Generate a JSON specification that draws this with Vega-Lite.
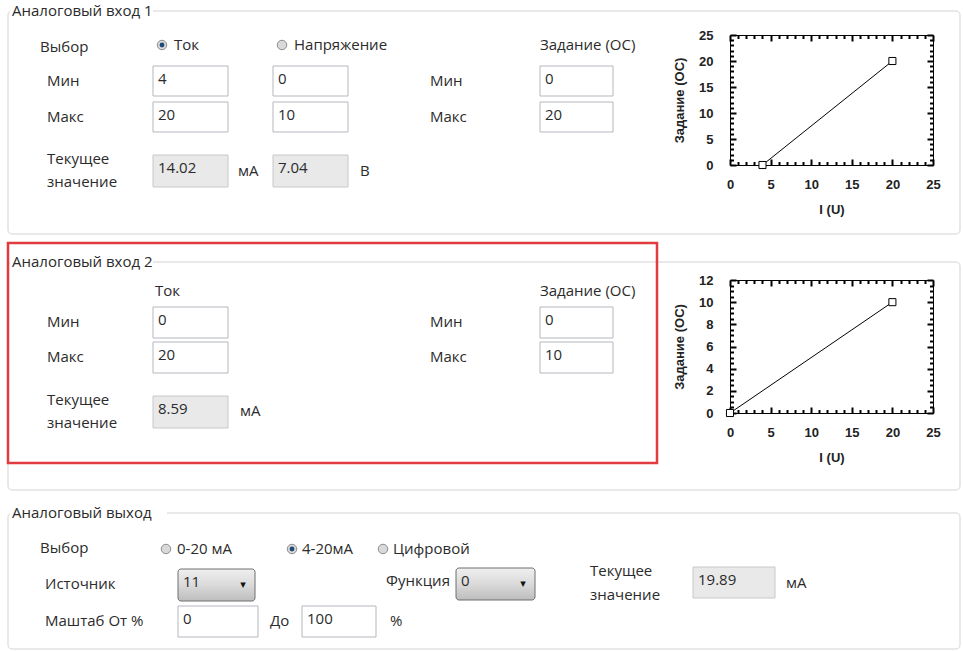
{
  "$schema": "https://vega.github.io/schema/vega-lite/v6.json",
  "padding": 0,
  "background": "white",
  "bounds": "flush",
  "spacing": 5,
  "config": {"view": {"stroke": null}, "axis": {"tickWidth": 2, "tickColor": "black", "domainColor": "black", "grid": false}},
  "datasets": {
    "ui": [
      {"kind": "group", "x": 8, "x2": 960, "y": 11, "y2": 234},
      {"kind": "group", "x": 8, "x2": 960, "y": 262, "y2": 490},
      {"kind": "group", "x": 8, "x2": 960, "y": 513, "y2": 649},
      {"kind": "titlebg", "x": 10, "x2": 153, "y": 2, "y2": 20},
      {"kind": "titlebg", "x": 10, "x2": 153, "y": 253, "y2": 271},
      {"kind": "titlebg", "x": 10, "x2": 167, "y": 504, "y2": 522},
      {"kind": "highlight", "x": 8, "x2": 657, "y": 243, "y2": 463},

      {"kind": "title", "text": "Аналоговый вход 1", "x": 12, "y": 11},
      {"kind": "title", "text": "Аналоговый вход 2", "x": 12, "y": 262},
      {"kind": "title", "text": "Аналоговый выход", "x": 12, "y": 513},

      {"kind": "label", "text": "Выбор", "x": 40, "y": 47},
      {"kind": "label", "text": "Ток", "x": 174, "y": 45},
      {"kind": "label", "text": "Напряжение", "x": 294, "y": 45},
      {"kind": "label", "text": "Задание (ОС)", "x": 540, "y": 45},
      {"kind": "label", "text": "Мин", "x": 47, "y": 81},
      {"kind": "label", "text": "Мин", "x": 430, "y": 81},
      {"kind": "label", "text": "Макс", "x": 47, "y": 117},
      {"kind": "label", "text": "Макс", "x": 430, "y": 117},
      {"kind": "label", "text": "Текущее", "x": 47, "y": 159},
      {"kind": "label", "text": "значение", "x": 47, "y": 182},
      {"kind": "label", "text": "мА", "x": 238, "y": 171},
      {"kind": "label", "text": "В", "x": 360, "y": 171},

      {"kind": "label", "text": "Ток", "x": 155, "y": 291},
      {"kind": "label", "text": "Задание (ОС)", "x": 540, "y": 291},
      {"kind": "label", "text": "Мин", "x": 47, "y": 322},
      {"kind": "label", "text": "Мин", "x": 430, "y": 322},
      {"kind": "label", "text": "Макс", "x": 47, "y": 357},
      {"kind": "label", "text": "Макс", "x": 430, "y": 357},
      {"kind": "label", "text": "Текущее", "x": 47, "y": 400},
      {"kind": "label", "text": "значение", "x": 47, "y": 423},
      {"kind": "label", "text": "мА", "x": 240, "y": 411},

      {"kind": "label", "text": "Выбор", "x": 40, "y": 548},
      {"kind": "label", "text": "0-20 мА", "x": 177, "y": 549},
      {"kind": "label", "text": "4-20мА", "x": 302, "y": 549},
      {"kind": "label", "text": "Цифровой", "x": 393, "y": 549},
      {"kind": "label", "text": "Источник", "x": 45, "y": 584},
      {"kind": "label", "text": "Функция", "x": 386, "y": 581},
      {"kind": "label", "text": "Текущее", "x": 590, "y": 571},
      {"kind": "label", "text": "значение", "x": 590, "y": 595},
      {"kind": "label", "text": "мА", "x": 786, "y": 583},
      {"kind": "label", "text": "Маштаб От %", "x": 45, "y": 621},
      {"kind": "label", "text": "До", "x": 270, "y": 621},
      {"kind": "label", "text": "%", "x": 390, "y": 621},

      {"kind": "input", "text": "4", "x": 153, "x2": 228, "y": 66, "y2": 96},
      {"kind": "input", "text": "0", "x": 273, "x2": 348, "y": 66, "y2": 96},
      {"kind": "input", "text": "0", "x": 540, "x2": 613, "y": 66, "y2": 96},
      {"kind": "input", "text": "20", "x": 153, "x2": 228, "y": 102, "y2": 132},
      {"kind": "input", "text": "10", "x": 273, "x2": 348, "y": 102, "y2": 132},
      {"kind": "input", "text": "20", "x": 540, "x2": 613, "y": 102, "y2": 132},
      {"kind": "readonly", "text": "14.02", "x": 153, "x2": 228, "y": 155, "y2": 187},
      {"kind": "readonly", "text": "7.04", "x": 273, "x2": 348, "y": 155, "y2": 187},

      {"kind": "input", "text": "0", "x": 153, "x2": 228, "y": 307, "y2": 338},
      {"kind": "input", "text": "0", "x": 540, "x2": 613, "y": 307, "y2": 338},
      {"kind": "input", "text": "20", "x": 153, "x2": 228, "y": 342, "y2": 373},
      {"kind": "input", "text": "10", "x": 540, "x2": 613, "y": 342, "y2": 373},
      {"kind": "readonly", "text": "8.59", "x": 153, "x2": 228, "y": 396, "y2": 428},

      {"kind": "dropdown", "text": "11", "x": 178, "x2": 255, "y": 569, "y2": 601},
      {"kind": "dropdown", "text": "0", "x": 456, "x2": 535, "y": 568, "y2": 600},
      {"kind": "readonly", "text": "19.89", "x": 693, "x2": 775, "y": 567, "y2": 598},
      {"kind": "input", "text": "0", "x": 178, "x2": 258, "y": 606, "y2": 637},
      {"kind": "input", "text": "100", "x": 302, "x2": 376, "y": 606, "y2": 637},

      {"kind": "radio", "selected": true, "x": 162, "y": 45},
      {"kind": "radio", "selected": false, "x": 282, "y": 45},
      {"kind": "radio", "selected": false, "x": 166, "y": 549},
      {"kind": "radio", "selected": true, "x": 292, "y": 549},
      {"kind": "radio", "selected": false, "x": 383, "y": 549}
    ],
    "in1": [
      {"I": 4, "Z": 0},
      {"I": 20, "Z": 20}
    ],
    "in2": [
      {"I": 0, "Z": 0},
      {"I": 20, "Z": 10}
    ]
  },
  "hconcat": [
    {
      "width": 725,
      "height": 651,
      "data": {"name": "ui"},
      "encoding": {
        "x": {"field": "x", "type": "quantitative", "scale": {"domain": [0, 725], "nice": false, "zero": false}, "axis": null},
        "y": {"field": "y", "type": "quantitative", "scale": {"domain": [0, 651], "nice": false, "zero": false, "reverse": true}, "axis": null}
      },
      "layer": [
        {
          "transform": [{"filter": "datum.kind === 'group'"}],
          "mark": {"type": "rect", "fill": null, "stroke": "#d3d3d3", "strokeWidth": 1, "cornerRadius": 4},
          "encoding": {"x2": {"field": "x2"}, "y2": {"field": "y2"}}
        },
        {
          "transform": [{"filter": "datum.kind === 'titlebg'"}],
          "mark": {"type": "rect", "fill": "white", "stroke": null},
          "encoding": {"x2": {"field": "x2"}, "y2": {"field": "y2"}}
        },
        {
          "transform": [{"filter": "datum.kind === 'highlight'"}],
          "mark": {"type": "rect", "fill": null, "stroke": "#e23b3f", "strokeWidth": 2.5},
          "encoding": {"x2": {"field": "x2"}, "y2": {"field": "y2"}}
        },
        {
          "transform": [{"filter": "datum.kind === 'input'"}],
          "mark": {"type": "rect", "fill": "white", "stroke": "#b5b7bd", "strokeWidth": 1},
          "encoding": {"x2": {"field": "x2"}, "y2": {"field": "y2"}}
        },
        {
          "transform": [{"filter": "datum.kind === 'readonly'"}],
          "mark": {"type": "rect", "fill": "#e9e9e9", "stroke": "#c8c8c8", "strokeWidth": 1},
          "encoding": {"x2": {"field": "x2"}, "y2": {"field": "y2"}}
        },
        {
          "transform": [{"filter": "datum.kind === 'dropdown'"}],
          "mark": {
            "type": "rect", "stroke": "#6f6f6f", "strokeWidth": 1, "cornerRadius": 3,
            "fill": {"gradient": "linear", "x1": 0, "y1": 0, "x2": 0, "y2": 1,
                     "stops": [{"offset": 0, "color": "#f0f0f0"}, {"offset": 0.5, "color": "#dadada"}, {"offset": 1, "color": "#bdbdbd"}]}
          },
          "encoding": {"x2": {"field": "x2"}, "y2": {"field": "y2"}}
        },
        {
          "transform": [{"filter": "datum.kind === 'dropdown'"}],
          "mark": {"type": "text", "align": "center", "baseline": "top", "dx": -12, "dy": 10, "font": "DejaVu Sans", "fontSize": 11, "fill": "#111"},
          "encoding": {"x": {"field": "x2", "type": "quantitative"}, "text": {"value": "▾"}}
        },
        {
          "transform": [{"filter": "datum.kind === 'radio'"}],
          "mark": {"type": "point", "shape": "circle", "size": 90, "filled": true, "fill": "#d9d9d9", "stroke": "#8c8c8c", "strokeWidth": 1, "opacity": 1},
          "encoding": {}
        },
        {
          "transform": [{"filter": "datum.kind === 'radio' && datum.selected"}],
          "mark": {"type": "point", "shape": "circle", "size": 24, "filled": true, "fill": "#1f4b7a", "stroke": null, "opacity": 1},
          "encoding": {}
        },
        {
          "transform": [{"filter": "datum.kind === 'input' || datum.kind === 'readonly' || datum.kind === 'dropdown'"}],
          "mark": {"type": "text", "align": "left", "baseline": "top", "dx": 5, "dy": 6, "font": "Open Sans", "fontSize": 15, "fill": "#2b2b2b"},
          "encoding": {"text": {"field": "text"}}
        },
        {
          "transform": [{"filter": "datum.kind === 'label' || datum.kind === 'title'"}],
          "mark": {"type": "text", "align": "left", "baseline": "middle", "font": "Open Sans", "fontSize": 15, "fill": "#2b2b2b"},
          "encoding": {"text": {"field": "text"}}
        }
      ]
    },
    {
      "bounds": "flush",
      "spacing": 5,
      "vconcat": [
        {
          "width": 203, "height": 30,
          "data": {"values": []},
          "mark": {"type": "point", "opacity": 0}
        },
        {
          "width": 203, "height": 130,
          "data": {"name": "in1"},
          "layer": [
            {
              "mark": {"type": "line", "color": "black", "strokeWidth": 1},
              "encoding": {
                "x": {"field": "I", "type": "quantitative", "scale": {"domain": [0, 25], "nice": false},
                  "axis": {"orient": "bottom", "values": [0, 5, 10, 15, 20, 25], "format": "d", "tickSize": -6,
                    "labelFont": "Liberation Sans", "labelFontSize": 13, "labelFontWeight": "bold", "labelColor": "#222",
                    "labelPadding": 19, "labelFlush": false, "labelOverlap": false,
                    "title": "I (U)", "titleFont": "Liberation Sans", "titleFontSize": 13, "titleFontWeight": "bold", "titleColor": "#222", "titlePadding": 12}},
                "y": {"field": "Z", "type": "quantitative", "scale": {"domain": [0, 25], "nice": false},
                  "axis": {"orient": "left", "values": [0, 5, 10, 15, 20, 25], "format": "d", "tickSize": -6,
                    "labelFont": "Liberation Sans", "labelFontSize": 13, "labelFontWeight": "bold", "labelColor": "#222",
                    "labelPadding": 23, "labelOverlap": false,
                    "title": "Задание (ОС)", "titleFont": "Liberation Sans", "titleFontSize": 13, "titleFontWeight": "bold", "titleColor": "#222", "titlePadding": 12}}
              }
            },
            {
              "mark": {"type": "point", "shape": "square", "size": 50, "filled": true, "fill": "white", "stroke": "black", "strokeWidth": 1, "opacity": 1},
              "encoding": {
                "x": {"field": "I", "type": "quantitative",
                  "axis": {"orient": "top", "values": [0, 5, 10, 15, 20, 25], "tickSize": -6, "labels": false, "title": null}},
                "y": {"field": "Z", "type": "quantitative",
                  "axis": {"orient": "right", "values": [0, 5, 10, 15, 20, 25], "tickSize": -6, "labels": false, "title": null}}
              }
            },
            {
              "mark": {"type": "point", "opacity": 0},
              "encoding": {
                "x": {"field": "I", "type": "quantitative",
                  "axis": {"orient": "bottom", "values": [1,2,3,4,6,7,8,9,11,12,13,14,16,17,18,19,21,22,23,24], "tickSize": -3.5,
                    "labels": false, "title": null, "domain": false}},
                "y": {"field": "Z", "type": "quantitative",
                  "axis": {"orient": "left", "values": [1,2,3,4,6,7,8,9,11,12,13,14,16,17,18,19,21,22,23,24], "tickSize": -3.5,
                    "labels": false, "title": null, "domain": false}}
              }
            },
            {
              "mark": {"type": "point", "opacity": 0},
              "encoding": {
                "x": {"field": "I", "type": "quantitative",
                  "axis": {"orient": "top", "values": [1,2,3,4,6,7,8,9,11,12,13,14,16,17,18,19,21,22,23,24], "tickSize": -3.5,
                    "labels": false, "title": null, "domain": false}},
                "y": {"field": "Z", "type": "quantitative",
                  "axis": {"orient": "right", "values": [1,2,3,4,6,7,8,9,11,12,13,14,16,17,18,19,21,22,23,24], "tickSize": -3.5,
                    "labels": false, "title": null, "domain": false}}
              }
            }
          ],
          "resolve": {"axis": {"x": "independent", "y": "independent"}}
        },
        {
          "width": 203, "height": 105,
          "data": {"values": []},
          "mark": {"type": "point", "opacity": 0}
        },
        {
          "width": 203, "height": 133,
          "data": {"name": "in2"},
          "layer": [
            {
              "mark": {"type": "line", "color": "black", "strokeWidth": 1},
              "encoding": {
                "x": {"field": "I", "type": "quantitative", "scale": {"domain": [0, 25], "nice": false},
                  "axis": {"orient": "bottom", "values": [0, 5, 10, 15, 20, 25], "format": "d", "tickSize": -6, "tickOpacity": 0,
                    "labelFont": "Liberation Sans", "labelFontSize": 13, "labelFontWeight": "bold", "labelColor": "#222",
                    "labelPadding": 19, "labelFlush": false, "labelOverlap": false,
                    "title": "I (U)", "titleFont": "Liberation Sans", "titleFontSize": 13, "titleFontWeight": "bold", "titleColor": "#222", "titlePadding": 12}},
                "y": {"field": "Z", "type": "quantitative", "scale": {"domain": [0, 12], "nice": false},
                  "axis": {"orient": "left", "values": [0, 2, 4, 6, 8, 10, 12], "format": "d", "tickSize": -6, "tickOpacity": 0,
                    "labelFont": "Liberation Sans", "labelFontSize": 13, "labelFontWeight": "bold", "labelColor": "#222",
                    "labelPadding": 23, "labelOverlap": false,
                    "title": "Задание (ОС)", "titleFont": "Liberation Sans", "titleFontSize": 13, "titleFontWeight": "bold", "titleColor": "#222", "titlePadding": 12}}
              }
            },
            {
              "mark": {"type": "point", "shape": "square", "size": 50, "filled": true, "fill": "white", "stroke": "black", "strokeWidth": 1, "opacity": 1},
              "encoding": {
                "x": {"field": "I", "type": "quantitative",
                  "axis": {"orient": "top", "ticks": false, "labels": false, "title": null}},
                "y": {"field": "Z", "type": "quantitative",
                  "axis": {"orient": "right", "ticks": false, "labels": false, "title": null}}
              }
            },
            {
              "mark": {"type": "point", "opacity": 0},
              "encoding": {
                "x": {"field": "I", "type": "quantitative",
                  "axis": {"orient": "top", "offset": -133, "values": [0, 5, 10, 15, 20, 25], "tickSize": 6,
                    "labels": false, "title": null, "domain": false}},
                "y": {"field": "Z", "type": "quantitative",
                  "axis": {"orient": "right", "offset": -203, "values": [0, 2, 4, 6, 8, 10, 12], "tickSize": 6,
                    "labels": false, "title": null, "domain": false}}
              }
            },
            {
              "mark": {"type": "point", "opacity": 0},
              "encoding": {
                "x": {"field": "I", "type": "quantitative",
                  "axis": {"orient": "top", "offset": -133, "values": [1,2,3,4,6,7,8,9,11,12,13,14,16,17,18,19,21,22,23,24], "tickSize": 3.5,
                    "labels": false, "title": null, "domain": false}},
                "y": {"field": "Z", "type": "quantitative",
                  "axis": {"orient": "right", "offset": -203, "values": [0.5,1,1.5,2.5,3,3.5,4.5,5,5.5,6.5,7,7.5,8.5,9,9.5,10.5,11,11.5], "tickSize": 3.5,
                    "labels": false, "title": null, "domain": false}}
              }
            },
            {
              "mark": {"type": "point", "opacity": 0},
              "encoding": {
                "x": {"field": "I", "type": "quantitative",
                  "axis": {"orient": "bottom", "offset": -133, "values": [0, 5, 10, 15, 20, 25], "tickSize": 6,
                    "labels": false, "title": null, "domain": false}},
                "y": {"field": "Z", "type": "quantitative",
                  "axis": {"orient": "left", "offset": -203, "values": [0, 2, 4, 6, 8, 10, 12], "tickSize": 6,
                    "labels": false, "title": null, "domain": false}}
              }
            },
            {
              "mark": {"type": "point", "opacity": 0},
              "encoding": {
                "x": {"field": "I", "type": "quantitative",
                  "axis": {"orient": "bottom", "offset": -133, "values": [1,2,3,4,6,7,8,9,11,12,13,14,16,17,18,19,21,22,23,24], "tickSize": 3.5,
                    "labels": false, "title": null, "domain": false}},
                "y": {"field": "Z", "type": "quantitative",
                  "axis": {"orient": "left", "offset": -203, "values": [0.5,1,1.5,2.5,3,3.5,4.5,5,5.5,6.5,7,7.5,8.5,9,9.5,10.5,11,11.5], "tickSize": 3.5,
                    "labels": false, "title": null, "domain": false}}
              }
            }
          ],
          "resolve": {"axis": {"x": "independent", "y": "independent"}}
        }
      ]
    }
  ]
}
